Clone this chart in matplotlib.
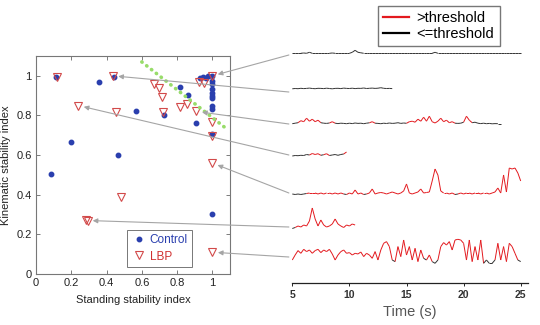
import numpy as np
import matplotlib.pyplot as plt
from matplotlib.collections import LineCollection
from matplotlib.lines import Line2D
from matplotlib.patches import ConnectionPatch

plt.rcParams['font.family'] = ['Liberation Sans', 'DejaVu Sans']

# scatter: standing stability index vs kinematic stability index
ctrl_x = [0.085, 0.113, 0.20, 0.356, 0.444, 0.467, 0.567, 0.726, 0.817, 0.86, 0.906,
          0.93, 0.949, 0.962, 0.977, 0.997, 1.0, 1.0, 1.0, 1.0, 1.0, 1.0, 1.0, 1.0, 1.0, 1.0]
ctrl_y = [0.505, 0.994, 0.665, 0.97, 0.996, 0.60, 0.825, 0.80, 0.942, 0.903, 0.763,
          0.99, 0.994, 0.99, 1.0, 1.0, 0.974, 0.957, 0.932, 0.915, 0.898, 0.886, 0.847,
          0.835, 0.707, 0.304]
lbp_x = [0.117, 0.435, 0.24, 0.454, 0.67, 0.70, 0.713, 0.72, 0.817, 0.858, 0.91,
         0.926, 0.953, 1.0, 0.996, 0.996, 1.0, 0.482, 0.285, 0.295, 1.0]
lbp_y = [0.996, 1.0, 0.85, 0.817, 0.96, 0.937, 0.893, 0.817, 0.842, 0.86, 0.82,
         0.97, 0.965, 1.0, 0.766, 0.695, 0.56, 0.39, 0.275, 0.265, 0.11]
fit_x = [0.60, 1.08]
fit_y = [1.07, 0.733]

# example traces, one sample every 0.25 s from 5 s
t_start = 5.0
t_step = 0.25
trace1 = [0, 0, 0, 0, 0.3, 0, 1, 0, 0, 0, 0, 0, 0, 0, 0.3, 0, 0, 0, 0, 0, 0,
          1, 3, 1, 0.5, 0, 0, 0, 0, 0, 0, 0, 0, 0, 0, 0, 0, 0, 0, 0, 0, 0, 0, 0, 0,
          0, 0, 0, 0, 0, 1, 0, 0, 0, 0, 0, 0, 0, 0, 0, 0, 0, 0, 0, 0, 0, 0, 0, 0,
          0, 0, 0, 0, 0, 0, 0, 0, 0, 0, 0, 0]
trace2 = [0.5, 0.8, 0.6, 1.0, 0.7, 0.9, 1.2, 0.8, 0.6, 1.0, 0.9, 0.7, 1.1, 0.8, 0.5,
          0.9, 1.0, 0.7, 1.2, 0.9, 0.8, 1.1, 0.7, 1.0, 0.9, 1.3, 0.8, 1.0, 1.2, 0.9,
          1.1, 1.6, 1.0, 0.8, 0.9, 0.7]
trace3 = [0.5, 1, 1.5, 3.5, 2.5, 6, 3, 5, 2.5, 4, 1.5, 1, 0.8, 1.2, 2.5, 1, 0.6, 1,
          0.8, 0.5, 1, 0.6, 1.2, 0.8, 1, 0.5, 1, 1.4, 2.5, 1, 0.8, 0.5, 1, 0.7, 1.2,
          0.8, 1, 1.5, 0.8, 1.2, 0.9, 2.5, 3, 2, 5, 3, 7, 3, 8, 2.5, 1.2, 3, 6, 2.5,
          4, 1.5, 2.5, 1, 0.8, 1, 2, 8, 4, 1.5, 2, 1, 0.6, 1, 0.5, 0.8, 0.4, 0.6,
          0.5, 0.5]
trace4 = [0.5, 1, 0.8, 1.2, 1, 2, 1.5, 3, 2, 2.8, 1.2, 1.8, 2.8, 1, 1.5, 2, 1.2,
          2, 2.5, 4.5]
trace5 = [1, 0.5, 1, 0.5, 1, 1.5, 2, 2, 2, 1, 2, 1, 2, 2, 1, 2, 1, 2, 1, 0.5, 2, 1,
          5, 1, 2, 0.5, 1, 2, 6, 1, 2, 2.5, 2, 1, 2, 3, 2, 1, 2, 4, 11, 2, 1, 2, 3, 6,
          2, 2.5, 3, 14, 26, 20, 4, 2, 2, 1, 2, 0.5, 1, 2, 1, 2, 2, 1, 2, 2, 1, 2, 2,
          1, 2, 3, 7, 2, 20, 3, 27, 26, 27, 22, 14]
trace6 = [0.5, 1.5, 3, 2, 4, 3, 8, 21, 10, 3, 9, 4, 2, 3, 5, 10, 5, 3, 1.5, 4, 3, 5, 4]
trace7 = [3.3, 8.3, 12.7, 10, 14, 11.7, 13.3, 10, 12.7, 14, 10.7, 13.3, 11.7, 14, 9.3,
          3.3, 8.3, 11.7, 13.3, 10, 10.7, 8.3, 10, 9.3, 11.3, 6.7, 10, 8.3, 5, 11.7,
          3.3, 13.3, 20, 21.7, 16.7, 3.3, 1.7, 16.7, 6.7, 23.3, 8.3, 16.7, 3.3, 15,
          1.7, 13.3, 5, 3.3, 8.3, 1.7, 0, 3.3, 16.7, 20.7, 18.3, 21.7, 13.3, 23.3, 24,
          23.3, 20, 3.3, 23.3, 1.7, 16.7, 3.3, 23.3, 0, 3.3, 0, 0, 3.3, 20, 3.3, 16.7,
          1.7, 20, 16.7, 10, 3.3, 1.7]
traces = [trace1, trace2, trace3, trace4, trace5, trace6, trace7]
thresholds = [9, 9, 2, 2.6, 1.5, 2, 5]

# LBP subject shown by each trace
arrow_targets = [(1.0, 1.0), (0.435, 1.0), (0.91, 0.82), (0.24, 0.85),
                 (1.0, 0.56), (0.29, 0.27), (1.0, 0.11)]

# vertical placement of the traces (in px above the time axis)
trace_base = [229.4, 193.4, 158.5, 126.2, 87.7, 53.7, 19.4]
arrow_tail_y = [227.7, 190.7, 158.7, 127.7, 89.7, 55.7, 25.7]

blue = '#2a3fae'
red_tri = '#d24a4a'
red_line = '#e3191e'

fig = plt.figure(figsize=(5.4, 3.25), dpi=100)

# left: scatter
ax = fig.add_axes([36 / 540, 51 / 325, 194 / 540, 218 / 325])
ax.plot(ctrl_x, ctrl_y, 'o', ms=3.2, color=blue, mec=blue, ls='none', zorder=3)
ax.plot(lbp_x, lbp_y, 'v', ms=5.5, mfc='none', mec=red_tri, mew=0.8, ls='none', zorder=4)
ax.plot(fit_x, fit_y, ls=(0, (0.1, 1.6)), lw=2.6, color='#98dc6a',
        dash_capstyle='round', zorder=5)
ax.set_xlim(0, 1.1)
ax.set_ylim(0, 1.1)
ticks = [0, 0.2, 0.4, 0.6, 0.8, 1]
labels = ['0', '0.2', '0.4', '0.6', '0.8', '1']
ax.set_xticks(ticks)
ax.set_xticklabels(labels)
ax.set_yticks(ticks)
ax.set_yticklabels(labels)
ax.tick_params(direction='in', length=3, width=0.6, labelsize=8, colors='#666666',
               labelcolor='#222222', top=True, right=True, pad=3)
for s in ax.spines.values():
    s.set_color('#777777')
    s.set_linewidth(0.8)
ax.set_xlabel('Standing stability index', fontsize=8, labelpad=5, color='#222222')
ax.set_ylabel('Kinematic stability index', fontsize=8, labelpad=4, color='#222222')

h = [Line2D([], [], marker='o', ms=3.2, color=blue, ls='none'),
     Line2D([], [], marker='v', ms=5.5, mfc='none', mec=red_tri, mew=0.8, ls='none')]
leg = ax.legend(h, ['Control', 'LBP'], loc='lower left', bbox_to_anchor=(0.47, 0.031),
                borderaxespad=0, fontsize=8.5, fancybox=False, edgecolor='#555555',
                handletextpad=0.3, handlelength=1.2, borderpad=0.4, labelspacing=0.35)
leg.get_frame().set_linewidth(0.7)
leg.get_texts()[0].set_color(blue)
leg.get_texts()[1].set_color('#d03030')

# right: traces
ax2 = fig.add_axes([292.3 / 540, 42.3 / 325, 235.7 / 540, 242.7 / 325])
ax2.patch.set_alpha(0)
for vals, base, thr in zip(traces, trace_base, thresholds):
    y = np.array(vals, dtype=float)
    t = t_start + t_step * np.arange(len(y))
    pts = np.column_stack([t, y + base])
    segs = np.stack([pts[:-1], pts[1:]], axis=1)
    cols = [red_line if max(y[i], y[i + 1]) > thr else '#333333' for i in range(len(y) - 1)]
    ax2.add_collection(LineCollection(segs, colors=cols, linewidths=0.7))
ax2.set_xlim(5, 5 + 235.7 / 11.42)
ax2.set_ylim(0, 242.7)
for k in ['left', 'right', 'top']:
    ax2.spines[k].set_visible(False)
ax2.spines['bottom'].set_color('#222222')
ax2.spines['bottom'].set_linewidth(0.9)
ax2.set_yticks([])
ax2.set_xticks([5, 10, 15, 20, 25])
ax2.tick_params(axis='x', length=2, width=0.6, labelsize=7.5, pad=3)
for lab in ax2.get_xticklabels():
    lab.set_fontweight('bold')
    lab.set_color('#333333')
ax2.set_xlabel('Time (s)', fontsize=10.5, color='#555555', labelpad=4)

# arrows from each trace to its subject in the scatter
for tail_y, target in zip(arrow_tail_y, arrow_targets):
    cp = ConnectionPatch(xyA=(4.7, tail_y), coordsA=ax2.transData,
                         xyB=target, coordsB=ax.transData,
                         arrowstyle='-|>', color='#a5a5a5', lw=0.8,
                         mutation_scale=7, shrinkA=0, shrinkB=4, zorder=2)
    fig.add_artist(cp)

fig.legend([Line2D([], [], color=red_line, lw=1.6), Line2D([], [], color='black', lw=1.6)],
           ['>threshold', '<=threshold'], loc='upper left',
           bbox_to_anchor=(378 / 540, 1 - 6 / 325), borderaxespad=0, fontsize=10.5,
           fancybox=False, edgecolor='#555555', handlelength=1.8, handletextpad=0.5,
           borderpad=0.35, labelspacing=0.15)

fig.savefig('out.png', dpi=100)
